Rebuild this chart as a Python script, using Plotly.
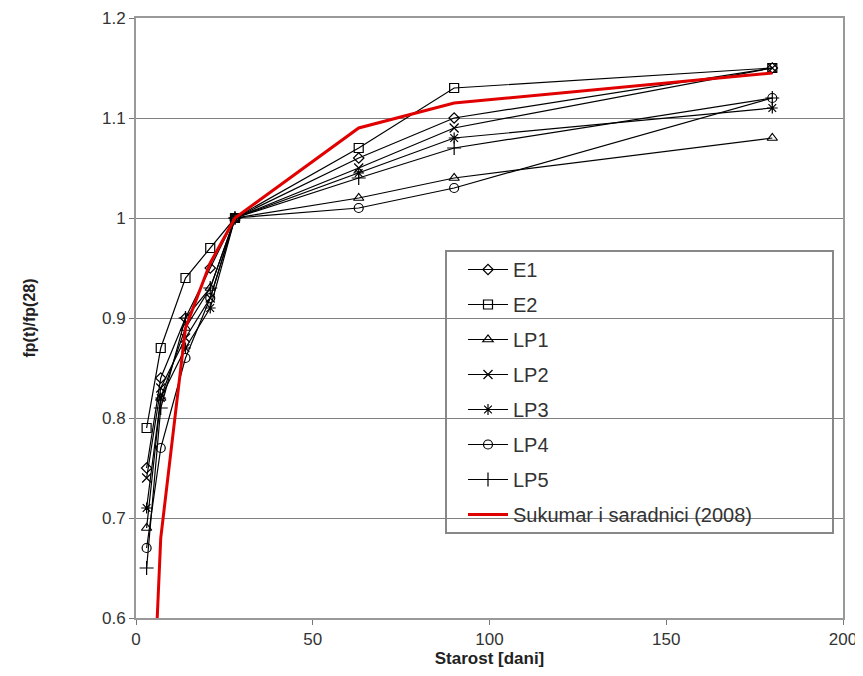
import plotly.graph_objects as go

ages = [3, 7, 14, 21, 28, 63, 90, 180]
E1 = [0.75, 0.84, 0.90, 0.95, 1.00, 1.06, 1.10, 1.15]
E2 = [0.79, 0.87, 0.94, 0.97, 1.00, 1.07, 1.13, 1.15]
LP1 = [0.69, 0.82, 0.89, 0.93, 1.00, 1.02, 1.04, 1.08]
LP2 = [0.74, 0.83, 0.88, 0.92, 1.00, 1.05, 1.09, 1.15]
LP3 = [0.71, 0.82, 0.87, 0.91, 1.00, 1.045, 1.08, 1.11]
LP4 = [0.67, 0.77, 0.86, 0.92, 1.00, 1.01, 1.03, 1.12]
LP5 = [0.65, 0.81, 0.90, 0.93, 1.00, 1.04, 1.07, 1.12]

suk_ages = [6, 7, 14, 21, 28, 63, 90, 180]
suk_vals = [0.60, 0.68, 0.89, 0.955, 1.00, 1.09, 1.115, 1.145]

series = [
    ("E1", E1, "diamond-open", 8),
    ("E2", E2, "square-open", 9),
    ("LP1", LP1, "triangle-up-open", 9),
    ("LP2", LP2, "x-thin-open", 9),
    ("LP3", LP3, "asterisk-open", 9),
    ("LP4", LP4, "circle-open", 9),
    ("LP5", LP5, "cross-thin-open", 10),
]

FONT = "Liberation Sans, Arial"

fig = go.Figure()
for name, vals, sym, sz in series:
    fig.add_trace(go.Scatter(
        x=ages, y=vals, name=name, mode="lines+markers",
        line=dict(color="black", width=1.2),
        marker=dict(symbol=sym, size=sz, color="black",
                    line=dict(color="black", width=1.2)),
        legendgroup=name,
    ))

fig.add_trace(go.Scatter(
    x=suk_ages, y=suk_vals, name="Sukumar i saradnici (2008)", mode="lines",
    line=dict(color="#e00000", width=3), legendgroup="suk",
))

axis_common = dict(
    showline=True, linecolor="#999999", linewidth=2, mirror=True,
    ticks="outside", ticklen=5, tickcolor="#777777",
    tickfont=dict(family=FONT, size=17, color="#333333"),
    zeroline=False, automargin=False, ticklabeloverflow="allow",
)

fig.update_xaxes(range=[0, 200], dtick=50, showgrid=False,
                 title=dict(text="<b>Starost [dani]</b>",
                            font=dict(family=FONT, size=17, color="#222222"),
                            standoff=6),
                 **axis_common)
fig.update_yaxes(range=[0.6, 1.2], dtick=0.1, showgrid=True,
                 gridcolor="#808080", gridwidth=1,
                 title=dict(text="<b>fp(t)/fp(28)</b>",
                            font=dict(family=FONT, size=16, color="#222222"),
                            standoff=62),
                 **axis_common)

# legend frame
fig.add_shape(type="rect", xref="paper", yref="paper",
              x0=(446 - 136) / 707, x1=(833 - 136) / 707,
              y0=(618 - 533) / 600, y1=(618 - 251) / 600,
              line=dict(color="#888888", width=2), fillcolor="white", layer="below")

fig.update_layout(
    width=855, height=660,
    margin=dict(l=128, r=20, t=10, b=50),
    plot_bgcolor="white", paper_bgcolor="white",
    font=dict(family=FONT, color="#333333"),
    legend=dict(
        x=(463 - 136) / 707, y=(618 - 250) / 600, xanchor="left", yanchor="top",
        borderwidth=0, bgcolor="rgba(0,0,0,0)",
        font=dict(family=FONT, size=20, color="#333333"),
        tracegroupgap=6, traceorder="grouped",
        itemwidth=40,
    ),
)

fig.write_html("out.html")
